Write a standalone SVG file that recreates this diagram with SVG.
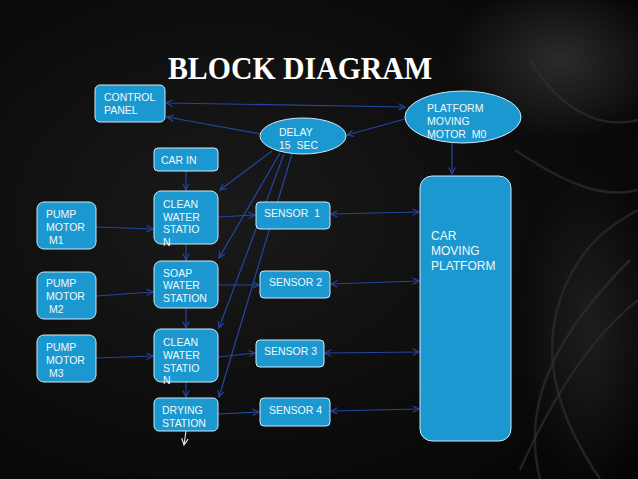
<svg xmlns="http://www.w3.org/2000/svg" width="638" height="479" viewBox="0 0 638 479">
<defs>
<radialGradient id="bg" cx="0.35" cy="0.45" r="0.8">
<stop offset="0" stop-color="#1a1a1a"/>
<stop offset="0.6" stop-color="#0c0c0c"/>
<stop offset="1" stop-color="#050505"/>
</radialGradient>
<radialGradient id="glow" cx="0.5" cy="0.5" r="0.5">
<stop offset="0" stop-color="#3a3a3a" stop-opacity="0.7"/>
<stop offset="1" stop-color="#3a3a3a" stop-opacity="0"/>
</radialGradient>
<marker id="ah" viewBox="0 0 10 10" refX="9" refY="5" markerWidth="8" markerHeight="8" markerUnits="userSpaceOnUse" orient="auto-start-reverse">
<path d="M1,1 L9,5 L1,9" fill="none" stroke="#2446a0" stroke-width="1.4"/>
</marker>
<marker id="ahw" viewBox="0 0 10 10" refX="9" refY="5" markerWidth="8" markerHeight="8" markerUnits="userSpaceOnUse" orient="auto">
<path d="M1,1 L9,5 L1,9" fill="none" stroke="#e8e8e8" stroke-width="1.4"/>
</marker>
</defs>
<style>
.box{fill:#1a98cf;stroke:#cfe9f5;stroke-width:1}
.t{font-family:"Liberation Sans",Arial,sans-serif;font-size:10.5px;fill:#f2f8fc}
.big{font-size:12px}
.c{stroke:#2446a0;stroke-width:1.2;fill:none;marker-end:url(#ah)}
.d{marker-start:url(#ah)}
.deco{fill:none;stroke:#2e2e2e;stroke-width:2.5;opacity:0.7}
</style>
<rect width="638" height="479" fill="url(#bg)"/>
<g id="decoration">
<ellipse cx="560" cy="60" rx="110" ry="80" fill="url(#glow)"/>
<ellipse cx="590" cy="330" rx="70" ry="160" fill="url(#glow)" opacity="0.6"/>
<path class="deco" d="M520,470 C560,380 600,330 638,300"/>
<path class="deco" d="M540,479 C520,400 560,330 630,260"/>
<path class="deco" d="M600,479 C560,420 540,360 560,300 C580,240 620,220 638,210"/>
<path class="deco" d="M515,150 C560,180 600,200 638,190"/>
<path class="deco" d="M530,60 C560,110 600,130 638,120"/>
</g>
<text x="168" y="79" font-family="'Liberation Serif','DejaVu Serif',serif" font-size="32" font-weight="bold" fill="#ffffff" textLength="264" lengthAdjust="spacingAndGlyphs">BLOCK DIAGRAM</text>
<g id="connectors">
<line class="c d" x1="166" y1="103" x2="405" y2="107"/>
<line class="c" x1="261" y1="134" x2="167" y2="117"/>
<line class="c" x1="405" y1="119" x2="347" y2="135"/>
<line class="c" x1="452" y1="143" x2="452" y2="174"/>
<line class="c" x1="186" y1="171" x2="186" y2="190"/>
<line class="c" x1="186" y1="244" x2="186" y2="260"/>
<line class="c" x1="186" y1="308" x2="186" y2="328"/>
<line class="c" x1="186" y1="382" x2="186" y2="397"/>
<line x1="186" y1="431" x2="184" y2="445" stroke="#e8e8e8" stroke-width="1.1" marker-end="url(#ahw)"/>
<line class="c" x1="96" y1="227" x2="153" y2="229"/>
<line class="c" x1="96" y1="296" x2="153" y2="292"/>
<line class="c" x1="96" y1="358" x2="153" y2="356"/>
<line class="c" x1="218" y1="217" x2="255" y2="215"/>
<line class="c" x1="218" y1="285" x2="259" y2="285"/>
<line class="c" x1="218" y1="357" x2="255" y2="353"/>
<line class="c" x1="218" y1="414" x2="259" y2="412"/>
<line class="c d" x1="331" y1="214" x2="419" y2="212"/>
<line class="c d" x1="331" y1="284" x2="419" y2="281"/>
<line class="c d" x1="325" y1="353" x2="419" y2="352"/>
<line class="c d" x1="331" y1="411" x2="419" y2="409"/>
<line class="c" x1="272" y1="151" x2="220" y2="190"/>
<line class="c" x1="280" y1="153" x2="219" y2="258"/>
<line class="c" x1="284" y1="154" x2="219" y2="328"/>
<line class="c" x1="292" y1="154" x2="219" y2="397"/>
</g>
<g id="control-panel">
<rect class="box" x="95" y="85" width="70" height="37" rx="5"/>
<text class="t" x="104" y="101">CONTROL</text>
<text class="t" x="104" y="114">PANEL</text>
</g>
<g id="platform-moving-motor">
<ellipse class="box" cx="463" cy="117" rx="58" ry="26"/>
<text class="t" x="427" y="112">PLATFORM</text>
<text class="t" x="427" y="125">MOVING</text>
<text class="t" x="427" y="138" xml:space="preserve">MOTOR  M0</text>
</g>
<g id="delay">
<ellipse class="box" cx="303" cy="136" rx="43" ry="18"/>
<text class="t" x="279" y="136">DELAY</text>
<text class="t" x="279" y="149" xml:space="preserve">15  SEC</text>
</g>
<g id="car-in">
<rect class="box" x="154" y="148" width="64" height="23" rx="4"/>
<text class="t" x="161" y="164">CAR IN</text>
</g>
<g id="clean-water-station-1">
<rect class="box" x="154" y="191" width="64" height="53" rx="7"/>
<text class="t" x="163" y="208">CLEAN</text>
<text class="t" x="163" y="221">WATER</text>
<text class="t" x="163" y="233">STATIO</text>
<text class="t" x="163" y="246">N</text>
</g>
<g id="soap-water-station">
<rect class="box" x="154" y="261" width="64" height="47" rx="7"/>
<text class="t" x="163" y="277">SOAP</text>
<text class="t" x="163" y="289">WATER</text>
<text class="t" x="163" y="302">STATION</text>
</g>
<g id="clean-water-station-2">
<rect class="box" x="154" y="329" width="64" height="53" rx="7"/>
<text class="t" x="163" y="346">CLEAN</text>
<text class="t" x="163" y="359">WATER</text>
<text class="t" x="163" y="372">STATIO</text>
<text class="t" x="163" y="384">N</text>
</g>
<g id="drying-station">
<rect class="box" x="154" y="398" width="64" height="33" rx="5"/>
<text class="t" x="162" y="414">DRYING</text>
<text class="t" x="162" y="427">STATION</text>
</g>
<g id="pump-motor-m1">
<rect class="box" x="37" y="202" width="59" height="47" rx="7"/>
<text class="t" x="46" y="218">PUMP</text>
<text class="t" x="46" y="231">MOTOR</text>
<text class="t" x="46" y="244" xml:space="preserve"> M1</text>
</g>
<g id="pump-motor-m2">
<rect class="box" x="37" y="272" width="59" height="47" rx="7"/>
<text class="t" x="46" y="287">PUMP</text>
<text class="t" x="46" y="300">MOTOR</text>
<text class="t" x="46" y="313" xml:space="preserve"> M2</text>
</g>
<g id="pump-motor-m3">
<rect class="box" x="37" y="335" width="59" height="47" rx="7"/>
<text class="t" x="46" y="351">PUMP</text>
<text class="t" x="46" y="364">MOTOR</text>
<text class="t" x="46" y="377" xml:space="preserve"> M3</text>
</g>
<g id="sensor-1">
<rect class="box" x="256" y="202" width="74" height="27" rx="4"/>
<text class="t" x="264" y="217" xml:space="preserve">SENSOR  1</text>
</g>
<g id="sensor-2">
<rect class="box" x="260" y="271" width="70" height="27" rx="4"/>
<text class="t" x="269" y="286">SENSOR 2</text>
</g>
<g id="sensor-3">
<rect class="box" x="256" y="340" width="68" height="27" rx="4"/>
<text class="t" x="264" y="355">SENSOR 3</text>
</g>
<g id="sensor-4">
<rect class="box" x="260" y="398" width="70" height="28" rx="4"/>
<text class="t" x="269" y="414">SENSOR 4</text>
</g>
<g id="car-moving-platform">
<rect class="box" x="420" y="176" width="91" height="265" rx="12"/>
<text class="t big" x="431" y="240">CAR</text>
<text class="t big" x="431" y="255">MOVING</text>
<text class="t big" x="431" y="270">PLATFORM</text>
</g>
</svg>
